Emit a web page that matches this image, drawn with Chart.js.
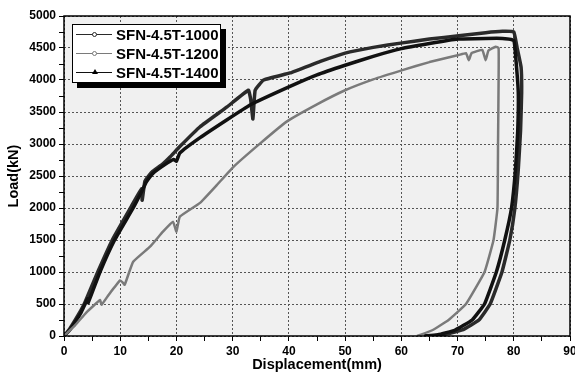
<!DOCTYPE html>
<html>
<head>
<meta charset="utf-8">
<script src="https://cdn.jsdelivr.net/npm/chart.js@4.4.1/dist/chart.umd.min.js"></script>
<style>
  body { margin: 0; background: #fff; }
  #wrap { position: relative; width: 575px; height: 376px; }
  #legend {
    position: absolute; left: 72px; top: 24px; width: 147px; height: 57px;
    background: #fff; border: 1px solid #000; box-shadow: 5px 5px 0 #000;
    font: bold 15px "Liberation Sans", Arial, sans-serif; color: #000;
  }
  .row { position: absolute; left: 0; height: 18px; line-height: 18px; white-space: nowrap; }
  .swatch { position: absolute; left: 3px; top: 8px; width: 36px; height: 0; border-top: 1.5px solid #000; }
  .mark { position: absolute; left: 16px; top: -3px; width: 3px; height: 3px; border: 1px solid #000; border-radius: 50%; background: #fff; }
  .tri { position: absolute; left: 16px; top: -4px; width: 0; height: 0; border-left: 3px solid transparent; border-right: 3px solid transparent; border-bottom: 5px solid #000; }
  .label { position: absolute; left: 43px; top: 0; }
</style>
</head>
<body>
<div id="wrap">
  <canvas id="chart" width="575" height="376"></canvas>
  <div id="legend">
    <div class="row" style="top:1px"><div class="swatch" style="border-color:#2a2a2a"><div class="mark" style="border-color:#2a2a2a"></div></div><span class="label">SFN-4.5T-1000</span></div>
    <div class="row" style="top:20px"><div class="swatch" style="border-color:#7a7a7a"><div class="mark" style="border-color:#7a7a7a"></div></div><span class="label">SFN-4.5T-1200</span></div>
    <div class="row" style="top:39px"><div class="swatch" style="border-color:#111"><div class="tri"></div></div><span class="label">SFN-4.5T-1400</span></div>
  </div>
</div>
<script>
// SFN-4.5T-1000 (displacement mm / load kN)
const disp1000 = [0, 1, 2, 3, 3.7, 6.1, 8.7, 12, 13.8, 13.9, 14.4, 15.6, 17.6, 18.9, 20.6, 24.2, 29, 32.8, 33.2, 33.6, 34.0, 35.5, 40.2, 45.6, 50, 55, 60.2, 65, 70.2, 75, 78, 80, 80.6, 81.3, 81.4, 81.2, 80.8, 80.2, 79.3, 77.9, 75.8, 73.8, 71, 68, 65.5];
const load1000 = [0, 110, 250, 400, 520, 1020, 1520, 2030, 2300, 2120, 2420, 2560, 2690, 2800, 2960, 3270, 3580, 3840, 3700, 3390, 3840, 4000, 4110, 4290, 4420, 4510, 4580, 4640, 4690, 4740, 4760, 4750, 4500, 4200, 3800, 3200, 2600, 2000, 1500, 1000, 500, 250, 100, 30, 0];

// SFN-4.5T-1200
const disp1200 = [0, 2, 4, 6.4, 6.7, 8, 10, 10.5, 10.8, 12.3, 15.3, 17.6, 19.4, 20, 20.6, 24.2, 27.2, 30.1, 34.9, 39.6, 45, 50, 55, 60.2, 65, 70.2, 71.5, 72, 72.5, 74.4, 75, 75.5, 76.8, 77.3, 77.3, 77.2, 77.1, 76.4, 74.8, 71.5, 68.4, 65.5, 62.8];
const load1200 = [0, 170, 370, 560, 490, 650, 870, 830, 800, 1160, 1395, 1630, 1785, 1630, 1865, 2080, 2360, 2640, 3010, 3350, 3620, 3840, 4010, 4155, 4280, 4390, 4420, 4310, 4420, 4470, 4310, 4460, 4520, 4500, 4000, 3000, 2000, 1500, 1000, 500, 250, 90, 0];

// SFN-4.5T-1400
const disp1400 = [0, 1, 2, 3, 4.2, 4.3, 6.4, 9, 12.3, 14, 14.6, 15.8, 17.8, 19.5, 20, 20.6, 24.2, 29, 33.1, 40.2, 45, 50, 55, 60, 65, 70, 75, 78, 80, 80.4, 80.8, 80.7, 80.3, 79.6, 78.4, 76.9, 74.8, 72.6, 69.5, 66.5, 64];
const load1400 = [0, 90, 220, 360, 580, 520, 1000, 1500, 2000, 2290, 2400, 2540, 2670, 2760, 2730, 2860, 3100, 3380, 3610, 3900, 4080, 4230, 4370, 4490, 4570, 4640, 4650, 4650, 4620, 4300, 3800, 3200, 2600, 2000, 1500, 1000, 500, 250, 90, 20, 0];

const xTicks = [0, 10, 20, 30, 40, 50, 60, 70, 80, 90];
const yTicks = [0, 500, 1000, 1500, 2000, 2500, 3000, 3500, 4000, 4500, 5000];

const FONT = '"Liberation Sans", Arial, sans-serif';

const toPoints = (xs, ys) => xs.map((x, i) => ({ x: x, y: ys[i] }));

// fond gris de la zone de tracé + cadre noir
const plotFrame = {
  id: "plotFrame",
  beforeDraw(chart) {
    const { ctx, chartArea: a } = chart;
    ctx.save();
    ctx.fillStyle = "#f0f0f0";
    ctx.fillRect(a.left, a.top, a.right - a.left, a.bottom - a.top);
    ctx.restore();
  },
  afterDraw(chart) {
    const { ctx, chartArea: a } = chart;
    ctx.save();
    ctx.strokeStyle = "#000";
    ctx.lineWidth = 1.5;
    ctx.strokeRect(a.left, a.top, a.right - a.left, a.bottom - a.top);
    ctx.restore();
  },
};

const series = (label, xs, ys, color, width) => ({
  label: label,
  data: toPoints(xs, ys),
  showLine: true,
  borderColor: color,
  backgroundColor: color,
  borderWidth: width,
  borderJoinStyle: "round",
  pointRadius: 0,
  tension: 0.1,
});

new Chart(document.getElementById("chart"), {
  type: "scatter",
  data: {
    datasets: [
      series("SFN-4.5T-1200", disp1200, load1200, "#7a7a7a", 2.5),
      series("SFN-4.5T-1400", disp1400, load1400, "#111111", 3.5),
      series("SFN-4.5T-1000", disp1000, load1000, "#2a2a2a", 3.5),
    ],
  },
  options: {
    responsive: false,
    animation: false,
    devicePixelRatio: 1,
    layout: { padding: { left: 0, top: 16, right: 5, bottom: 0 } },
    plugins: { legend: { display: false }, tooltip: { enabled: false } },
    scales: {
      x: {
        type: "linear",
        min: 0,
        max: 90,
        afterFit(scale) {
          scale.height = 40;
          scale.paddingLeft = 0;
          scale.paddingRight = 0;
        },
        ticks: {
          stepSize: 5,
          autoSkip: false,
          maxRotation: 0,
          padding: 3,
          color: "#000",
          font: { family: FONT, size: 12, weight: "bold" },
          callback: (v) => (xTicks.includes(v) ? v : ""),
        },
        grid: {
          color: (c) => (c.tick && xTicks.includes(c.tick.value) ? "#555" : "transparent"),
          tickColor: "#000",
          tickLength: 5,
          lineWidth: 1,
        },
        border: { display: false, dash: [2, 2] },
        title: {
          display: true,
          text: "Displacement(mm)",
          color: "#000",
          font: { family: FONT, size: 14.5, weight: "bold" },
          padding: { top: 0, bottom: 2 },
        },
      },
      y: {
        type: "linear",
        min: 0,
        max: 5000,
        afterFit(scale) {
          scale.width = 64;
          scale.paddingTop = 0;
          scale.paddingBottom = 0;
        },
        ticks: {
          stepSize: 250,
          autoSkip: false,
          padding: 3,
          color: "#000",
          font: { family: FONT, size: 12, weight: "bold" },
          callback: (v) => (yTicks.includes(v) ? v : ""),
        },
        grid: {
          color: (c) => (c.tick && yTicks.includes(c.tick.value) ? "#555" : "transparent"),
          tickColor: "#000",
          tickLength: 5,
          lineWidth: 1,
        },
        border: { display: false, dash: [2, 2] },
        title: {
          display: true,
          text: "Load(kN)",
          color: "#000",
          font: { family: FONT, size: 14.5, weight: "bold" },
          padding: { top: 5, bottom: 0 },
        },
      },
    },
  },
  plugins: [plotFrame],
});
</script>
</body>
</html>
